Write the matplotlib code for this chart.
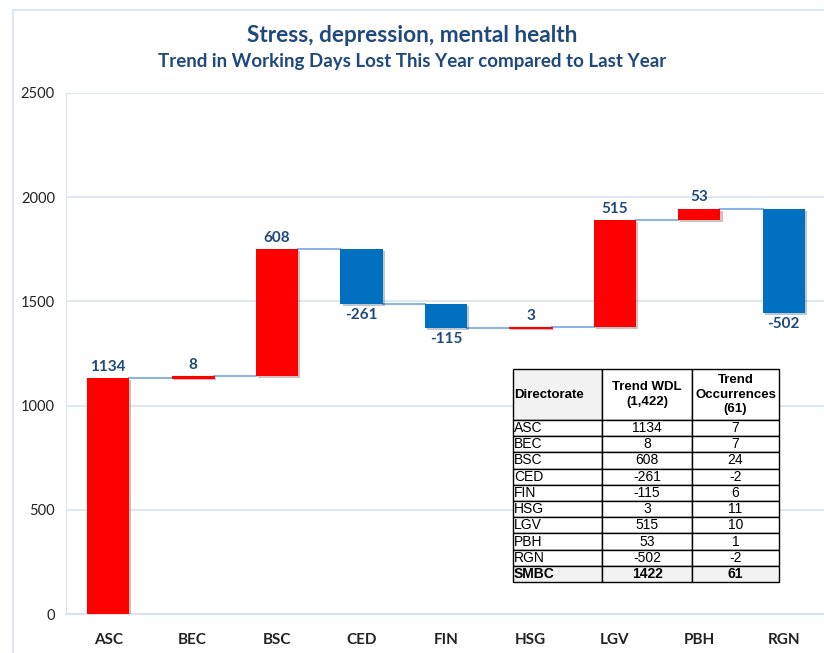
import matplotlib
matplotlib.use("Agg")
import matplotlib.pyplot as plt
from matplotlib.patches import Rectangle
from matplotlib import patheffects
import numpy as np

# data
directorates = ["ASC", "BEC", "BSC", "CED", "FIN", "HSG", "LGV", "PBH", "RGN"]
trend_wdl = [1134, 8, 608, -261, -115, 3, 515, 53, -502]
trend_occ = [7, 7, 24, -2, 6, 11, 10, 1, -2]
total_label = "SMBC"
total_wdl = 1422
total_occ = 61
y_ticks = [0, 500, 1000, 1500, 2000, 2500]

title_col = "#1F497D"
grid_col = "#D9E3F1"
conn_col = "#8DB4E2"
red = "#FF0000"
blue = "#0070C0"

fig = plt.figure(figsize=(8.24, 6.53), dpi=100)

# outer chart frame
fig.patches.append(Rectangle((13/824, -0.1), 1.2, 1 - 10/653 + 0.1, transform=fig.transFigure,
                             fill=False, edgecolor=grid_col, lw=1.2))

ax = fig.add_axes([66/824, 1 - 614/653, 760/824, (614 - 93)/653])

x = np.arange(len(directorates))
ends = np.cumsum(trend_wdl)
starts = ends - np.array(trend_wdl)
bottoms = np.minimum(starts, ends)
heights = np.abs(trend_wdl)
colors = [red if v >= 0 else blue for v in trend_wdl]

shadow = [patheffects.SimplePatchShadow(offset=(1.5, -1.5), alpha=0.25), patheffects.Normal()]
bw = 0.5
bars = ax.bar(x, heights, bottom=bottoms, width=bw, color=colors, zorder=3)
for b, h in zip(bars, heights):
    if h < 15:
        b.set_linewidth(0.8)
        b.set_edgecolor(red)
    b.set_path_effects(shadow)

# connectors
for i in range(len(x) - 1):
    ax.plot([x[i] + bw/2, x[i+1] - bw/2], [ends[i], ends[i]], color=conn_col, lw=1.5, zorder=2)

# data labels
for i, v in enumerate(trend_wdl):
    if v >= 0:
        ax.annotate(str(v), (x[i], max(starts[i], ends[i])), xytext=(0, 3), textcoords="offset points",
                    ha="center", va="bottom", fontsize=11, fontweight="bold", color=title_col,
                    family="Lato")
    else:
        ax.annotate(str(v), (x[i], min(starts[i], ends[i])), xytext=(0, -3), textcoords="offset points",
                    ha="center", va="top", fontsize=11, fontweight="bold", color=title_col,
                    family="Lato")

ax.set_xlim(-0.5, len(x) - 0.5)
ax.set_ylim(0, 2500)
ax.set_yticks(y_ticks)
ax.set_yticklabels([str(t) for t in y_ticks], family="Lato", fontsize=10.5, color="#222222")
ax.set_xticks(x)
ax.set_xticklabels(directorates, family="Lato", fontsize=11, fontweight="bold", color="#222222")
ax.tick_params(axis="both", length=0)
ax.tick_params(axis="x", pad=14)
ax.tick_params(axis="y", pad=8)
ax.grid(axis="y", color=grid_col, lw=1.2, zorder=0)
ax.set_axisbelow(True)
for s in ["top", "right"]:
    ax.spines[s].set_visible(False)
ax.spines["left"].set_color(grid_col)
ax.spines["bottom"].set_color(grid_col)
ax.spines["bottom"].set_linewidth(1.5)

fig.text(0.5, 1 - 35/653, "Stress, depression, mental health", ha="center", va="center",
         fontsize=16.3, fontweight="bold", color=title_col, family="Lato")
fig.text(0.5, 1 - 62/653, "Trend in Working Days Lost This Year compared to Last Year", ha="center",
         va="center", fontsize=13.5, fontweight="bold", color=title_col, family="Lato")

# table
rows = [["Directorate", "Trend WDL\n(1,422)", "Trend\nOccurrences\n(61)"]]
for d, w, o in zip(directorates, trend_wdl, trend_occ):
    rows.append([d, str(w), str(o)])
rows.append([total_label, str(total_wdl), str(total_occ)])

tab = ax.table(cellText=rows, bbox=[(513 - 66)/760, (614 - 582)/521, 266/760, 213/521],
               cellLoc="center", zorder=5)
tab.auto_set_font_size(False)
col_w = [89, 90, 87]
nrow = len(rows)
for (r, c), cell in tab.get_celld().items():
    cell.set_width(col_w[c])
    cell.set_height(51 if r == 0 else 16.2)
    cell.set_linewidth(1.0)
    cell.set_edgecolor("black")
    txt = cell.get_text()
    txt.set_fontsize(10)
    txt.set_family("Liberation Sans")
    if r == 0:
        txt.set_fontsize(9.5)
        txt.set_linespacing(1.3)
    if c == 0:
        txt.set_ha("left")
        cell.PAD = 0.01
    if r == 0 or r == nrow - 1:
        txt.set_fontweight("bold")
    if (r == 0 and c == 0) or r == nrow - 1:
        cell.set_facecolor("#F2F2F2")

fig.savefig("out.png", dpi=100)
